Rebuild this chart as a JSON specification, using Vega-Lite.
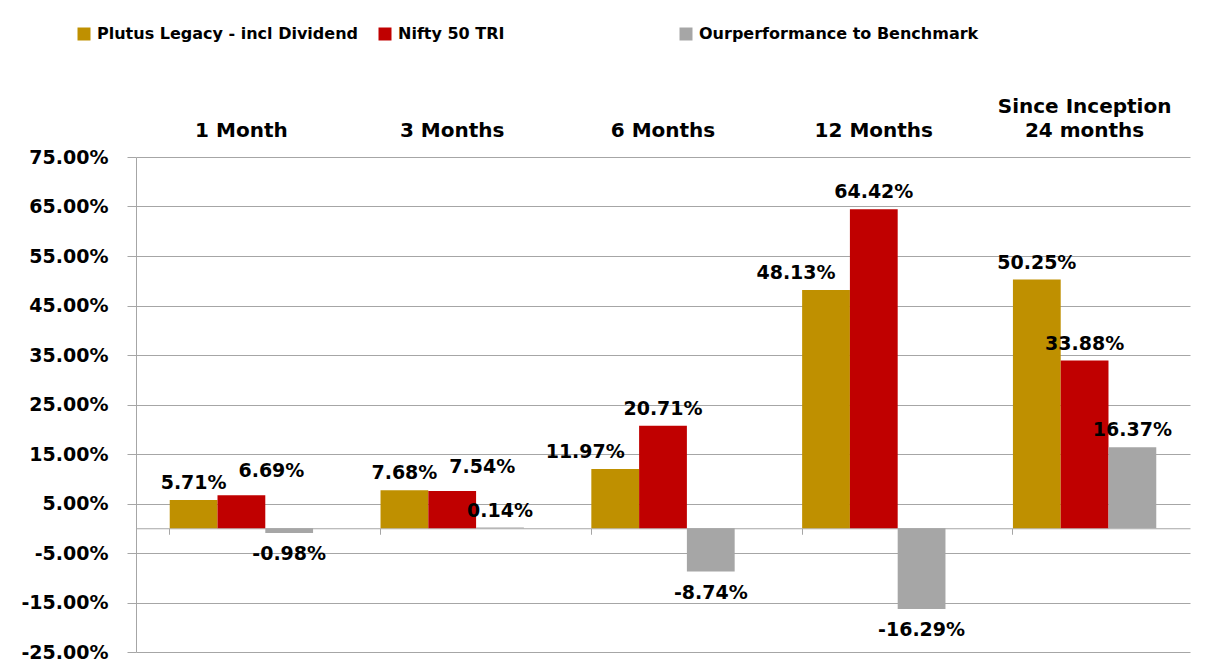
{
  "$schema": "https://vega.github.io/schema/vega-lite/v6.json",
  "width": 1054,
  "height": 495,
  "autosize": "none",
  "padding": {"left": 136, "top": 157, "right": 28, "bottom": 11},
  "background": "white",
  "config": {
    "font": "DejaVu Sans",
    "view": {"stroke": null},
    "locale": {"number": {"decimal": ".", "thousands": ",", "grouping": [3], "currency": ["$", ""], "minus": "-"}}
  },
  "data": {
    "values": [
      {"period": "1 Month", "series": "Plutus Legacy - incl Dividend", "value": 0.0571},
      {"period": "1 Month", "series": "Nifty 50 TRI", "value": 0.0669},
      {"period": "1 Month", "series": "Ourperformance to Benchmark", "value": -0.0098},
      {"period": "3 Months", "series": "Plutus Legacy - incl Dividend", "value": 0.0768},
      {"period": "3 Months", "series": "Nifty 50 TRI", "value": 0.0754},
      {"period": "3 Months", "series": "Ourperformance to Benchmark", "value": 0.0014},
      {"period": "6 Months", "series": "Plutus Legacy - incl Dividend", "value": 0.1197},
      {"period": "6 Months", "series": "Nifty 50 TRI", "value": 0.2071},
      {"period": "6 Months", "series": "Ourperformance to Benchmark", "value": -0.0874},
      {"period": "12 Months", "series": "Plutus Legacy - incl Dividend", "value": 0.4813},
      {"period": "12 Months", "series": "Nifty 50 TRI", "value": 0.6442},
      {"period": "12 Months", "series": "Ourperformance to Benchmark", "value": -0.1629},
      {"period": "Since Inception 24 months", "series": "Plutus Legacy - incl Dividend", "value": 0.5025},
      {"period": "Since Inception 24 months", "series": "Nifty 50 TRI", "value": 0.3388},
      {"period": "Since Inception 24 months", "series": "Ourperformance to Benchmark", "value": 0.1637}
    ]
  },
  "layer": [
    {
      "mark": {"type": "bar"},
      "encoding": {
        "x": {
          "field": "period", "type": "nominal",
          "sort": ["1 Month", "3 Months", "6 Months", "12 Months", "Since Inception 24 months"],
          "scale": {"paddingInner": 0.32, "paddingOuter": 0.16},
          "axis": {
            "orient": "top", "title": null, "domain": false, "ticks": false,
            "labelAngle": 0, "labelFontSize": 20, "labelFontWeight": "bold", "labelColor": "black",
            "labelPadding": 41, "labelLineHeight": 24, "labelLimit": 400,
            "labelExpr": "datum.value == 'Since Inception 24 months' ? ['Since Inception', '24 months'] : ['', datum.value]"
          }
        },
        "xOffset": {
          "field": "series", "type": "nominal",
          "sort": ["Plutus Legacy - incl Dividend", "Nifty 50 TRI", "Ourperformance to Benchmark"]
        },
        "y": {
          "field": "value", "type": "quantitative",
          "scale": {"domain": [-0.25, 0.75], "nice": false, "zero": false},
          "axis": {
            "title": null, "format": ".2%",
            "values": [-0.25, -0.15, -0.05, 0.05, 0.15, 0.25, 0.35, 0.45, 0.55, 0.65, 0.75],
            "labelFontSize": 19, "labelFontWeight": "bold", "labelColor": "black",
            "tickSize": 9, "tickColor": "#A6A6A6", "labelPadding": 19,
            "grid": true, "gridColor": "#A6A6A6", "gridWidth": 1,
            "domainColor": "#A6A6A6"
          }
        },
        "color": {
          "field": "series", "type": "nominal",
          "scale": {
            "domain": ["Plutus Legacy - incl Dividend", "Nifty 50 TRI", "Ourperformance to Benchmark"],
            "range": ["#BF9000", "#C00000", "#A6A6A6"]
          },
          "legend": {
            "title": null, "orient": "none", "legendX": -60, "legendY": -131,
            "direction": "horizontal", "columns": 3, "gridAlign": "all", "columnPadding": -3,
            "padding": 0, "symbolType": "square", "symbolSize": 169, "symbolStrokeWidth": 0,
            "labelFontSize": 16, "labelFontWeight": "bold", "labelColor": "black",
            "labelOffset": 5, "labelLimit": 400
          }
        }
      }
    },
    {
      "transform": [{"filter": "datum.value >= 0 && !(datum.series == 'Nifty 50 TRI' && datum.value < 0.1) && !(datum.series == 'Plutus Legacy - incl Dividend' && datum.value > 0.1 && datum.value < 0.5)"}],
      "mark": {"type": "text", "baseline": "bottom", "dy": -7, "fontSize": 19, "fontWeight": "bold", "color": "black"},
      "encoding": {
        "x": {
          "field": "period", "type": "nominal",
          "sort": ["1 Month", "3 Months", "6 Months", "12 Months", "Since Inception 24 months"],
          "axis": null
        },
        "xOffset": {
          "field": "series", "type": "nominal",
          "sort": ["Plutus Legacy - incl Dividend", "Nifty 50 TRI", "Ourperformance to Benchmark"]
        },
        "y": {"field": "value", "type": "quantitative", "axis": null},
        "text": {"field": "value", "type": "quantitative", "format": ".2%"}
      }
    },
    {
      "transform": [{"filter": "datum.series == 'Nifty 50 TRI' && datum.value >= 0 && datum.value < 0.1"}],
      "mark": {"type": "text", "baseline": "bottom", "dx": 30, "dy": -14, "fontSize": 19, "fontWeight": "bold", "color": "black"},
      "encoding": {
        "x": {
          "field": "period", "type": "nominal",
          "sort": ["1 Month", "3 Months", "6 Months", "12 Months", "Since Inception 24 months"],
          "axis": null
        },
        "xOffset": {
          "field": "series", "type": "nominal",
          "sort": ["Plutus Legacy - incl Dividend", "Nifty 50 TRI", "Ourperformance to Benchmark"]
        },
        "y": {"field": "value", "type": "quantitative", "axis": null},
        "text": {"field": "value", "type": "quantitative", "format": ".2%"}
      }
    },
    {
      "transform": [{"filter": "datum.series == 'Plutus Legacy - incl Dividend' && datum.value > 0.1 && datum.value < 0.5"}],
      "mark": {"type": "text", "baseline": "bottom", "dx": -30, "dy": -7, "fontSize": 19, "fontWeight": "bold", "color": "black"},
      "encoding": {
        "x": {
          "field": "period", "type": "nominal",
          "sort": ["1 Month", "3 Months", "6 Months", "12 Months", "Since Inception 24 months"],
          "axis": null
        },
        "xOffset": {
          "field": "series", "type": "nominal",
          "sort": ["Plutus Legacy - incl Dividend", "Nifty 50 TRI", "Ourperformance to Benchmark"]
        },
        "y": {"field": "value", "type": "quantitative", "axis": null},
        "text": {"field": "value", "type": "quantitative", "format": ".2%"}
      }
    },
    {
      "transform": [{"filter": "datum.value < 0"}],
      "mark": {"type": "text", "baseline": "top", "dy": 12, "fontSize": 19, "fontWeight": "bold", "color": "black"},
      "encoding": {
        "x": {
          "field": "period", "type": "nominal",
          "sort": ["1 Month", "3 Months", "6 Months", "12 Months", "Since Inception 24 months"],
          "axis": {
            "orient": "bottom", "offset": -123.75, "title": null, "labels": false,
            "domain": true, "domainColor": "#A6A6A6", "ticks": true, "tickSize": 6,
            "tickColor": "#A6A6A6", "bandPosition": 0, "grid": false
          }
        },
        "xOffset": {
          "field": "series", "type": "nominal",
          "sort": ["Plutus Legacy - incl Dividend", "Nifty 50 TRI", "Ourperformance to Benchmark"]
        },
        "y": {"field": "value", "type": "quantitative", "axis": null},
        "text": {"field": "value", "type": "quantitative", "format": ".2%"}
      }
    }
  ],
  "resolve": {"axis": {"x": "independent", "y": "independent"}}
}
